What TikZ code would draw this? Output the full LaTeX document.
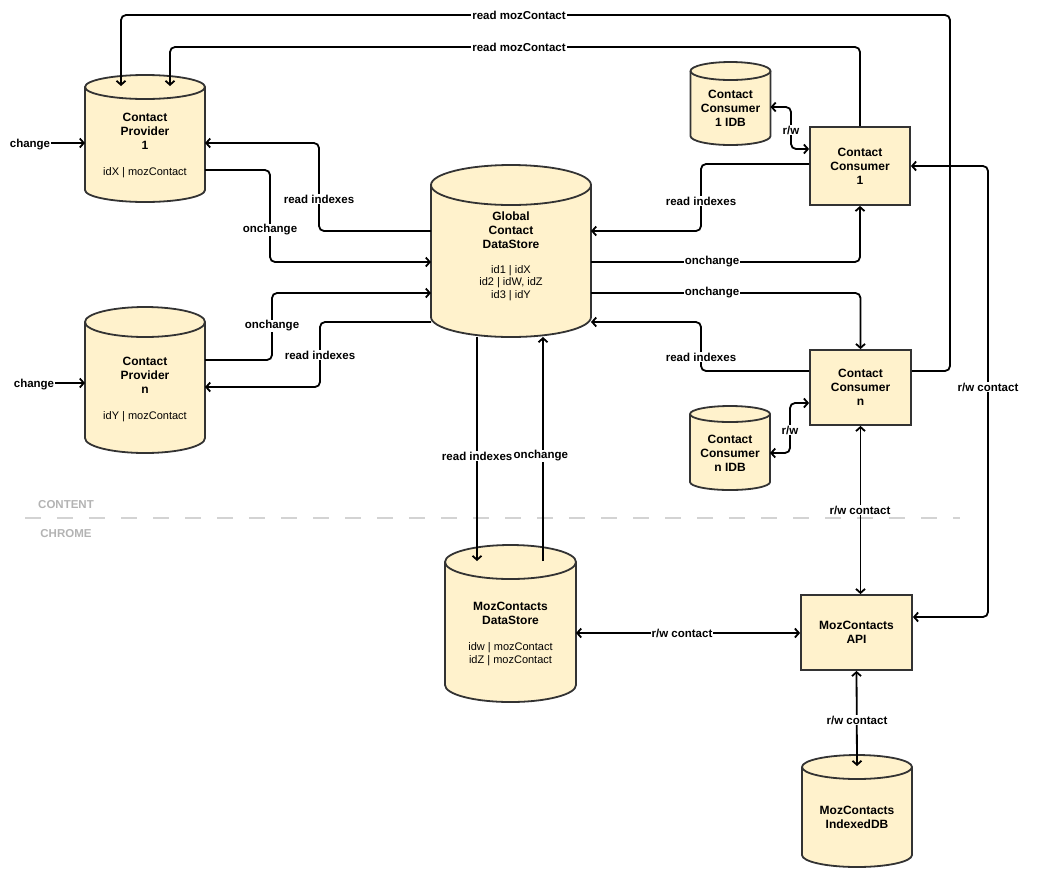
\documentclass[tikz,border=0pt]{standalone}
\usepackage{fontspec}
\setmainfont{Liberation Sans}
\usetikzlibrary{arrows.meta}

\definecolor{dbfill}{HTML}{FFF2CC}
\definecolor{dbedge}{HTML}{333333}
\definecolor{layergray}{HTML}{B3B3B3}
\definecolor{layerline}{HTML}{D3D3D3}

\tikzset{
  flow/.style={line width=1.8pt, rounded corners=5pt, -{Straight Barb[length=4pt,width=9pt]}},
  rw/.style={flow, {Straight Barb[length=4pt,width=9pt]}-{Straight Barb[length=4pt,width=9pt]}},
  db/.style 2 args={minimum width=#1, minimum height=#2, inner sep=0pt, outer sep=0pt},
  dbline/.style={draw=dbedge, fill=dbfill, line width=1.8pt},
  box/.style={draw=dbedge, fill=dbfill, line width=1.8pt, inner sep=0pt, align=center,
    font=\fontsize{12}{14}\selectfont\bfseries},
  dbtitle/.style={inner sep=0pt, align=center, font=\fontsize{12}{14}\selectfont\bfseries},
  dbdata/.style={inner sep=0pt, align=center, font=\fontsize{11}{12.5}\selectfont},
  lbl/.style={fill=white, inner sep=1pt, font=\fontsize{11.5}{13}\selectfont\bfseries},
  layerrule/.style={draw=layerline, line width=1.8pt, dash pattern=on 16pt off 16pt},
  layertext/.style={inner sep=0pt, text=layergray, font=\fontsize{11.5}{13}\selectfont\bfseries}
}

% cylinder outline round an empty node: name, x radius, y radius
\newcommand{\drawdb}[3]{%
  \draw[dbline] ([yshift=-#3]#1.north west) -- ([yshift=#3]#1.south west)
    arc[start angle=180, end angle=360, x radius=#2, y radius=#3]
    -- ([yshift=-#3]#1.north east)
    arc[start angle=0, end angle=180, x radius=#2, y radius=#3] -- cycle;
  \draw[dbline, fill=none] ([yshift=-#3]#1.north west)
    arc[start angle=180, end angle=360, x radius=#2, y radius=#3];
}

\begin{document}
\begin{tikzpicture}[x=1pt, y=-1pt]

     \useasboundingbox (0,0) rectangle (1040,887);

     % layers
     \draw[layerrule] (25,518) -- (960,518);
     \node[layertext] (content) at (66,505) {CONTENT};
     \node[layertext] (chrome) at (66,534) {CHROME};

     % data stores
     \node[db={120pt}{127pt}] (p1) at (145,138.5) {};
     \node[db={120pt}{146pt}] (pn) at (145,380) {};
     \node[db={160pt}{172pt}] (gds) at (511,251) {};
     \node[db={80pt}{83pt}] (ci1) at (730.5,103.5) {};
     \node[db={80pt}{84pt}] (cin) at (730,448) {};
     \node[db={131pt}{157pt}] (mds) at (510.5,623.5) {};
     \node[db={110pt}{112pt}] (idb) at (857,811) {};

     \drawdb{p1}{60pt}{12pt}
     \drawdb{pn}{60pt}{15pt}
     \drawdb{gds}{80pt}{20pt}
     \drawdb{ci1}{40pt}{9pt}
     \drawdb{cin}{40pt}{8pt}
     \drawdb{mds}{65.5pt}{17pt}
     \drawdb{idb}{55pt}{12pt}

     \node[dbtitle] (p1t) at (145,131) {Contact\\Provider\\1};
     \node[dbdata] (p1d) at (145,173) {idX | mozContact};

     \node[dbtitle] (pnt) at (145,375) {Contact\\Provider\\n};
     \node[dbdata] (pnd) at (145,417) {idY | mozContact};

     \node[dbtitle] (gdst) at (511,230) {Global\\Contact\\DataStore};
     \node[dbdata] (gdsd) at (511,283) {id1 | idX\\id2 | idW, idZ\\id3 | idY};

     \node[dbtitle] (ci1t) at (730.5,108) {Contact\\Consumer\\1 IDB};
     \node[dbtitle] (cint) at (730,453) {Contact\\Consumer\\n IDB};

     \node[dbtitle] (mdst) at (510.5,613) {MozContacts\\DataStore};
     \node[dbdata] (mdsd) at (510.5,654) {idw | mozContact\\idZ | mozContact};

     \node[dbtitle] (idbt) at (857,817.5) {MozContacts\\IndexedDB};

     % consumers and api
     \node[box, minimum width=100pt, minimum height=78pt] (c1) at (860,166) {Contact\\Consumer\\1};
     \node[box, minimum width=101pt, minimum height=75pt] (cn) at (860.5,387.5) {Contact\\Consumer\\n};
     \node[box, minimum width=111pt, minimum height=75pt] (api) at (856.5,632.5) {MozContacts\\API};

     % change
     \node[lbl] (chg1) at (30,145) {change};
     \node[lbl] (chgn) at (34,385) {change};
     \draw[flow] (chg1.east |- 0,143) -- (p1.west |- 0,143);
     \draw[flow] (chgn.east |- 0,383) -- (pn.west |- 0,383);

     % read mozContact
     \draw[flow] (cn.east |- 0,371) -| (950,15) -| ([shift={(36,11)}]p1.north west);
     \draw[flow] (c1.north) |- (500,47) -| ([shift={(85,11)}]p1.north west);

     % providers
     \draw[flow] (gds.west |- 0,231) -- (319,231) |- (p1.east |- 0,143);
     \draw[flow] (p1.east |- 0,170) -- (270,170) |- (gds.west |- 0,262);
     \draw[flow] (pn.east |- 0,360) -- (272,360) |- (gds.west |- 0,293);
     \draw[flow] (gds.west |- 0,322) -- (320,322) |- (pn.east |- 0,387);

     % consumers
     \draw[flow] (c1.west |- 0,164) -- (701,164) |- (gds.east |- 0,231);
     \draw[flow] (gds.east |- 0,262) -| (c1.south);
     \draw[flow] (gds.east |- 0,293) -| (cn.north);
     \draw[flow] (cn.west |- 0,371) -- (701,371) |- (gds.east |- 0,322);
     \draw[rw] (ci1.east |- 0,107) -- (791,107) |- (c1.west |- 0,149);
     \draw[rw] (cin.east |- 0,453) -- (790,453) |- (cn.west |- 0,403);

     % chrome side
     \draw[rw] (c1.east) -- (988,166) |- (api.east |- 0,617);
     \draw[rw] (cn.south) -- (cn.south |- api.north);
     \draw[rw] (api.south) -- ([yshift=-11pt]idb.north);
     \draw[rw] (mds.east |- 0,633) -- (api.west |- 0,633);
     \draw[flow, shorten >=-16pt] (gds.south -| 477,0) -- (477,0 |- mds.north);
     \draw[flow, shorten <=-16pt] (543,0 |- mds.north) -- (543,0 |- gds.south);

     % labels
     \node[lbl] (l1) at (519,15) {read mozContact};
     \node[lbl] (l2) at (519,47) {read mozContact};
     \node[lbl] (l3) at (319,199) {read indexes};
     \node[lbl] (l4) at (270,230) {onchange};
     \node[lbl] (l5) at (272,326) {onchange};
     \node[lbl] (l6) at (320,355) {read indexes};
     \node[lbl] (l7) at (701,201) {read indexes};
     \node[lbl] (l8) at (712,262) {onchange};
     \node[lbl] (l9) at (712,293) {onchange};
     \node[lbl] (l10) at (701,357) {read indexes};
     \node[lbl] (l11) at (791,130) {r/w};
     \node[lbl] (l12) at (790,430) {r/w};
     \node[lbl] (l13) at (988,387) {r/w contact};
     \node[lbl] (l14) at (860,510) {r/w contact};
     \node[lbl] (l15) at (682,633) {r/w contact};
     \node[lbl] (l16) at (857,720) {r/w contact};
     \node[lbl, anchor=east, inner xsep=0.5pt] (l17) at (513,456) {read indexes};
     \node[lbl, anchor=west, inner xsep=0.5pt] (l18) at (513,456) {onchange};

\end{tikzpicture}
\end{document}
